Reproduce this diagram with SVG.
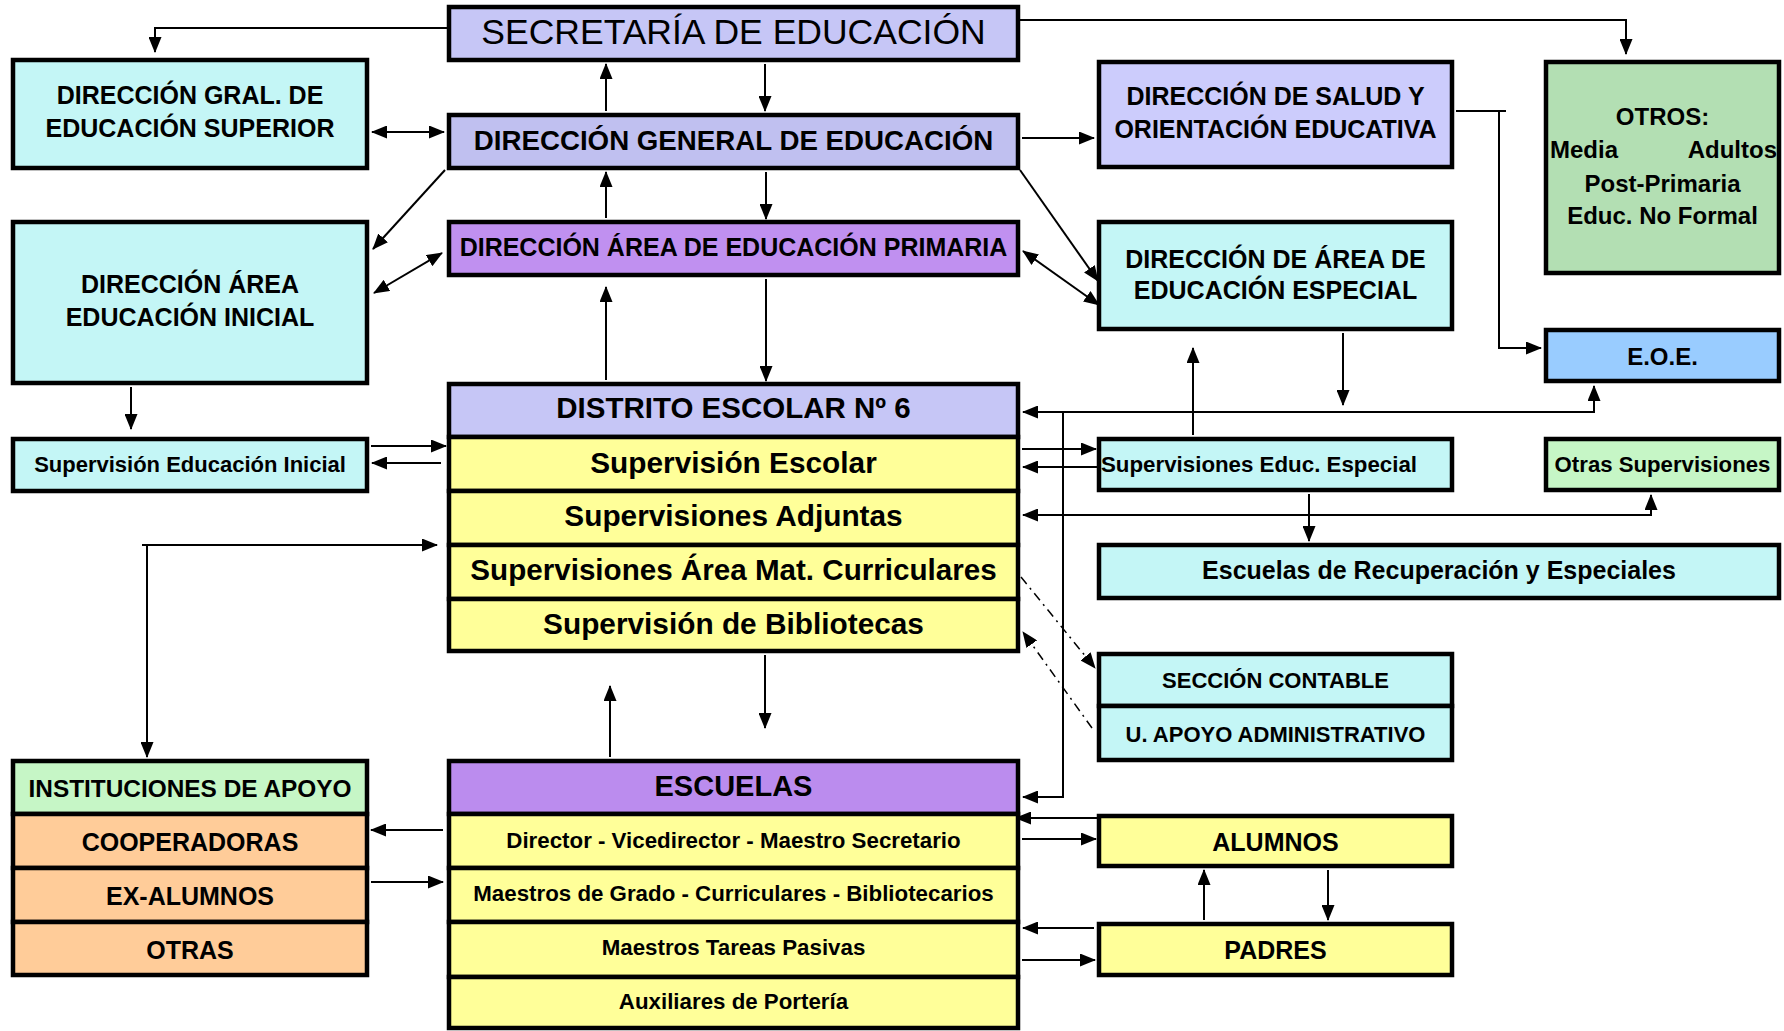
<svg xmlns="http://www.w3.org/2000/svg" width="1784" height="1031" viewBox="0 0 1784 1031">
<style>
.b{stroke:#000;stroke-width:4.5}
.t{font-family:"Liberation Sans",Arial,sans-serif;font-weight:bold;fill:#000;text-anchor:middle}
.c{fill:none;stroke:#000;stroke-width:2}
.d{fill:none;stroke:#000;stroke-width:1.5;stroke-dasharray:9 5 2 5}
.lav{fill:#c6c6f6}.cy{fill:#c4f6f6}.yl{fill:#ffff99}.pu{fill:#c090f0}.gr{fill:#b3dfb3}.lg{fill:#c6f6c6}.or{fill:#ffcc99}.bl{fill:#99ccff}
</style>
<defs>
<marker id="a" markerUnits="userSpaceOnUse" markerWidth="16" markerHeight="13" refX="15" refY="6.5" orient="auto-start-reverse"><path d="M0,0 L16,6.5 L0,13 z" fill="#000"/></marker>
</defs>
<rect width="1784" height="1031" fill="#fff"/>
<g id="connectors">
<path class="c" d="M447,28 H155 V52" marker-end="url(#a)"/>
<path class="c" d="M1020,20 H1626 V54" marker-end="url(#a)"/>
<path class="c" d="M606,111 V64" marker-end="url(#a)"/>
<path class="c" d="M765,64 V111" marker-end="url(#a)"/>
<path class="c" d="M372,132 H444" marker-start="url(#a)" marker-end="url(#a)"/>
<path class="c" d="M1022,138 H1094" marker-end="url(#a)"/>
<path class="c" d="M445,170 L373,249" marker-end="url(#a)"/>
<path class="c" d="M374,293 L442,253" marker-start="url(#a)" marker-end="url(#a)"/>
<path class="c" d="M606,218 V172" marker-end="url(#a)"/>
<path class="c" d="M766,172 V219" marker-end="url(#a)"/>
<path class="c" d="M1020,170 L1098,281" marker-end="url(#a)"/>
<path class="c" d="M1023,251 L1099,305" marker-start="url(#a)" marker-end="url(#a)"/>
<path class="c" d="M606,380 V287" marker-end="url(#a)"/>
<path class="c" d="M766,279 V381" marker-end="url(#a)"/>
<path class="c" d="M131,387 V429" marker-end="url(#a)"/>
<path class="c" d="M371,446 H446" marker-end="url(#a)"/>
<path class="c" d="M441,463 H372" marker-end="url(#a)"/>
<path class="c" d="M1456,111 H1506 M1499,111 V348 H1541" marker-end="url(#a)"/>
<path class="c" d="M1193,435 V348" marker-end="url(#a)"/>
<path class="c" d="M1343,333 V405" marker-end="url(#a)"/>
<path class="c" d="M1023,412 H1594 V386" marker-start="url(#a)" marker-end="url(#a)"/>
<path class="c" d="M1063,412 V797 H1023" marker-end="url(#a)"/>
<path class="c" d="M1022,449 H1096" marker-end="url(#a)"/>
<path class="c" d="M1097,467 H1023" marker-end="url(#a)"/>
<path class="c" d="M1023,515 H1651 V495" marker-start="url(#a)" marker-end="url(#a)"/>
<path class="c" d="M1309,494 V541" marker-end="url(#a)"/>
<path class="d" d="M1021,577 L1095,668" marker-end="url(#a)"/>
<path class="d" d="M1092,728 L1023,632" marker-end="url(#a)"/>
<path class="c" d="M765,655 V728" marker-end="url(#a)"/>
<path class="c" d="M610,757 V686" marker-end="url(#a)"/>
<path class="c" d="M142,545 H437" marker-end="url(#a)"/>
<path class="c" d="M147,545 V757" marker-end="url(#a)"/>
<path class="c" d="M443,830 H371" marker-end="url(#a)"/>
<path class="c" d="M371,882 H443" marker-end="url(#a)"/>
<path class="c" d="M1097,818 H1016" marker-end="url(#a)"/>
<path class="c" d="M1022,839 H1096" marker-end="url(#a)"/>
<path class="c" d="M1094,928 H1023" marker-end="url(#a)"/>
<path class="c" d="M1022,960 H1095" marker-end="url(#a)"/>
<path class="c" d="M1204,920 V870" marker-end="url(#a)"/>
<path class="c" d="M1328,870 V920" marker-end="url(#a)"/>
</g>
<g id="secretaria"><rect class="b lav" x="449" y="7" width="569" height="53"/><text class="t" x="733.5" y="44" font-size="35.5" style="font-weight:normal">SECRETARÍA DE EDUCACIÓN</text></g>
<g id="dges"><rect class="b cy" x="13" y="60" width="354" height="108"/><text class="t" x="190" y="104" font-size="25">DIRECCIÓN GRAL. DE</text><text class="t" x="190" y="137" font-size="25">EDUCACIÓN SUPERIOR</text></g>
<g id="dge"><rect class="b" fill="#c0c0f0" x="449" y="115" width="569" height="53"/><text class="t" x="733.5" y="150" font-size="27.7">DIRECCIÓN GENERAL DE EDUCACIÓN</text></g>
<g id="salud"><rect class="b" fill="#ccccfc" x="1099" y="62" width="353" height="105"/><text class="t" x="1275.5" y="105" font-size="25">DIRECCIÓN DE SALUD Y</text><text class="t" x="1275.5" y="138" font-size="25">ORIENTACIÓN EDUCATIVA</text></g>
<g id="otros"><rect class="b gr" x="1546" y="62" width="233" height="211"/><text class="t" x="1662.5" y="125" font-size="24">OTROS:</text><text class="t" x="1550" y="158" font-size="24" style="text-anchor:start">Media</text><text class="t" x="1777" y="158" font-size="24" style="text-anchor:end">Adultos</text><text class="t" x="1662.5" y="192" font-size="24">Post-Primaria</text><text class="t" x="1662.5" y="224" font-size="24">Educ. No Formal</text></g>
<g id="primaria"><rect class="b pu" x="449" y="222" width="569" height="53"/><text class="t" x="733.5" y="256" font-size="25">DIRECCIÓN ÁREA DE EDUCACIÓN PRIMARIA</text></g>
<g id="daei"><rect class="b cy" x="13" y="222" width="354" height="161"/><text class="t" x="190" y="293" font-size="25">DIRECCIÓN ÁREA</text><text class="t" x="190" y="326" font-size="25">EDUCACIÓN INICIAL</text></g>
<g id="especial"><rect class="b cy" x="1099" y="222" width="353" height="107"/><text class="t" x="1275.5" y="268" font-size="25">DIRECCIÓN DE ÁREA DE</text><text class="t" x="1275.5" y="299" font-size="25">EDUCACIÓN ESPECIAL</text></g>
<g id="eoe"><rect class="b bl" x="1546" y="330" width="233" height="51"/><text class="t" x="1662.5" y="365" font-size="24">E.O.E.</text></g>
<g id="distrito">
<rect class="b lav" x="449" y="384" width="569" height="53"/>
<rect class="b yl" x="449" y="437" width="569" height="54"/>
<rect class="b yl" x="449" y="491" width="569" height="54"/>
<rect class="b yl" x="449" y="545" width="569" height="54"/>
<rect class="b yl" x="449" y="599" width="569" height="52"/>
<text class="t" x="733.5" y="418" font-size="29.5">DISTRITO ESCOLAR Nº 6</text>
<text class="t" x="733.5" y="473" font-size="29.8">Supervisión Escolar</text>
<text class="t" x="733.5" y="526" font-size="29.8">Supervisiones Adjuntas</text>
<text class="t" x="733.5" y="580" font-size="29.6">Supervisiones Área Mat. Curriculares</text>
<text class="t" x="733.5" y="634" font-size="29.8">Supervisión de Bibliotecas</text>
</g>
<g id="supinicial"><rect class="b cy" x="13" y="439" width="354" height="52"/><text class="t" x="190" y="472" font-size="22">Supervisión Educación Inicial</text></g>
<g id="supespecial"><rect class="b cy" x="1099" y="439" width="353" height="51"/><text class="t" x="1101" y="472" font-size="22.3" style="text-anchor:start">Supervisiones Educ. Especial</text></g>
<g id="otrassup"><rect class="b lg" x="1546" y="439" width="233" height="51"/><text class="t" x="1662.5" y="472" font-size="22.2">Otras Supervisiones</text></g>
<g id="recup"><rect class="b cy" x="1099" y="545" width="680" height="53"/><text class="t" x="1439" y="579" font-size="25">Escuelas de Recuperación y Especiales</text></g>
<g id="contable">
<rect class="b cy" x="1099" y="654" width="353" height="52"/>
<rect class="b cy" x="1099" y="706" width="353" height="54"/>
<text class="t" x="1275.5" y="688" font-size="22">SECCIÓN CONTABLE</text>
<text class="t" x="1275.5" y="742" font-size="22">U. APOYO ADMINISTRATIVO</text>
</g>
<g id="instituciones">
<rect class="b lg" x="13" y="761" width="354" height="53"/>
<rect class="b or" x="13" y="814" width="354" height="54"/>
<rect class="b or" x="13" y="868" width="354" height="54"/>
<rect class="b or" x="13" y="922" width="354" height="53"/>
<text class="t" x="190" y="797" font-size="24.4">INSTITUCIONES DE APOYO</text>
<text class="t" x="190" y="851" font-size="25">COOPERADORAS</text>
<text class="t" x="190" y="905" font-size="25">EX-ALUMNOS</text>
<text class="t" x="190" y="959" font-size="25">OTRAS</text>
</g>
<g id="escuelas">
<rect class="b" fill="#bb8cee" x="449" y="761" width="569" height="53"/>
<rect class="b yl" x="449" y="814" width="569" height="54"/>
<rect class="b yl" x="449" y="868" width="569" height="54"/>
<rect class="b yl" x="449" y="922" width="569" height="55"/>
<rect class="b yl" x="449" y="977" width="569" height="51"/>
<text class="t" x="733.5" y="796" font-size="29">ESCUELAS</text>
<text class="t" x="733.5" y="848" font-size="22.3">Director - Vicedirector - Maestro Secretario</text>
<text class="t" x="733.5" y="901" font-size="22.3">Maestros de Grado - Curriculares - Bibliotecarios</text>
<text class="t" x="733.5" y="955" font-size="22.3">Maestros Tareas Pasivas</text>
<text class="t" x="733.5" y="1009" font-size="22.3">Auxiliares de Portería</text>
</g>
<g id="alumnos"><rect class="b yl" x="1099" y="816" width="353" height="50"/><text class="t" x="1275.5" y="851" font-size="25">ALUMNOS</text></g>
<g id="padres"><rect class="b yl" x="1099" y="924" width="353" height="51"/><text class="t" x="1275.5" y="959" font-size="25">PADRES</text></g>
</svg>
